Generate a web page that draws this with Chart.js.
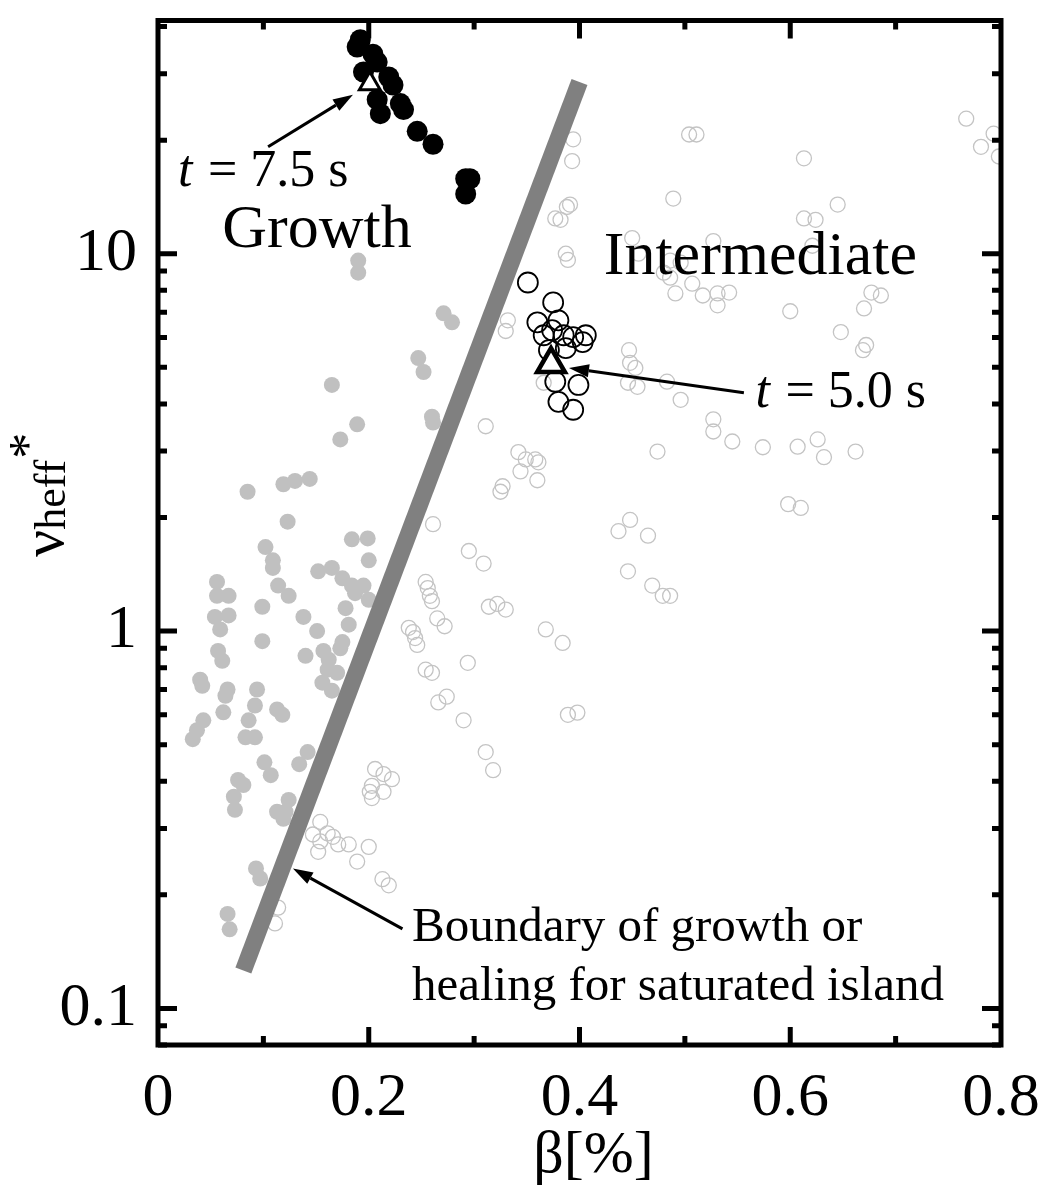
<!DOCTYPE html>
<html>
<head>
<meta charset="utf-8">
<script src="https://cdn.jsdelivr.net/npm/chart.js@4.4.1/dist/chart.umd.min.js"></script>
<style>
  html, body { margin: 0; padding: 0; background: #fff; }
  #wrap { width: 1045px; height: 1194px; }
</style>
</head>
<body>
<div id="wrap"><canvas id="myChart" width="1045" height="1194"></canvas></div>
<script>
// healing shots (gray, filled)
var grayFilledBeta = [0.190, 0.190, 0.271, 0.279, 0.247, 0.252, 0.165, 0.260, 0.261, 0.189,
    0.173, 0.085, 0.119, 0.130, 0.144, 0.123, 0.102, 0.109, 0.109, 0.114,
    0.124, 0.099, 0.099, 0.138, 0.151, 0.140, 0.184, 0.199, 0.200, 0.152,
    0.165, 0.175, 0.184, 0.195, 0.187, 0.200, 0.178, 0.181, 0.175, 0.173,
    0.157, 0.162, 0.161, 0.170, 0.156, 0.165, 0.056, 0.056, 0.067, 0.054,
    0.067, 0.059, 0.057, 0.061, 0.040, 0.042, 0.066, 0.064, 0.062, 0.094,
    0.092, 0.113, 0.118, 0.086, 0.043, 0.037, 0.033, 0.083, 0.092, 0.142,
    0.134, 0.101, 0.107, 0.076, 0.081, 0.072, 0.073, 0.124, 0.113, 0.121,
    0.119, 0.093, 0.097, 0.066, 0.068];
var grayFilledNu = [9.59, 8.91, 6.95, 6.58, 5.29, 4.86, 4.49, 3.70, 3.57, 3.53,
    3.22, 2.34, 2.45, 2.50, 2.53, 1.95, 1.67, 1.54, 1.47, 1.32,
    1.24, 1.16, 0.94, 1.09, 1.00, 0.86, 1.75, 1.76, 1.54, 1.44,
    1.47, 1.38, 1.32, 1.32, 1.26, 1.21, 1.15, 1.04, 0.935, 0.90,
    0.886, 0.84, 0.79, 0.775, 0.730, 0.695, 1.35, 1.24, 1.24, 1.09,
    1.10, 1.01, 0.886, 0.834, 0.743, 0.716, 0.70, 0.674, 0.609, 0.70,
    0.635, 0.620, 0.60, 0.58, 0.58, 0.546, 0.517, 0.523, 0.523, 0.478,
    0.444, 0.449, 0.415, 0.403, 0.391, 0.364, 0.336, 0.357, 0.332, 0.332,
    0.318, 0.235, 0.221, 0.178, 0.162];

// intermediate shots (gray, open)
var grayOpenBeta = [0.394, 0.393, 0.391, 0.388, 0.377, 0.382, 0.387, 0.389, 0.332, 0.330,
    0.311, 0.342, 0.349, 0.358, 0.361, 0.344, 0.360, 0.327, 0.325, 0.261,
    0.295, 0.309, 0.254, 0.256, 0.258, 0.260, 0.265, 0.272, 0.314, 0.322,
    0.330, 0.368, 0.384, 0.294, 0.254, 0.260, 0.238, 0.242, 0.244, 0.246,
    0.274, 0.266, 0.290, 0.311, 0.318, 0.206, 0.214, 0.222, 0.203, 0.201,
    0.214, 0.203, 0.154, 0.147, 0.161, 0.154, 0.166, 0.171, 0.181, 0.152,
    0.200, 0.189, 0.213, 0.219, 0.114, 0.111, 0.389, 0.398, 0.447, 0.448,
    0.453, 0.446, 0.455, 0.483, 0.496, 0.527, 0.527, 0.545, 0.574, 0.474,
    0.607, 0.626, 0.632, 0.662, 0.598, 0.610, 0.448, 0.437, 0.465, 0.446,
    0.469, 0.479, 0.486, 0.669, 0.767, 0.793, 0.781, 0.798, 0.504, 0.511,
    0.613, 0.489, 0.645, 0.613, 0.624, 0.450, 0.527, 0.621, 0.456, 0.486,
    0.496, 0.480, 0.486, 0.507, 0.491, 0.517, 0.531, 0.542, 0.531, 0.600,
    0.670, 0.677, 0.686, 0.648, 0.672, 0.366];
var grayOpenNu = [20.1, 17.6, 13.5, 13.3, 12.4, 12.3, 10.0, 9.63, 6.66, 6.24,
    3.49, 2.98, 2.85, 2.85, 2.80, 2.65, 2.51, 2.42, 2.34, 1.92,
    1.63, 1.51, 1.35, 1.30, 1.24, 1.20, 1.08, 1.03, 1.16, 1.18,
    1.14, 1.01, 0.93, 0.824, 0.79, 0.775, 1.02, 0.994, 0.958, 0.919,
    0.67, 0.647, 0.58, 0.478, 0.428, 0.431, 0.418, 0.405, 0.389, 0.375,
    0.375, 0.361, 0.312, 0.289, 0.291, 0.277, 0.285, 0.272, 0.272, 0.26,
    0.268, 0.245, 0.22, 0.212, 0.185, 0.168, 0.60, 0.608, 5.55, 5.14,
    4.98, 4.55, 4.44, 4.58, 4.10, 3.64, 3.38, 3.18, 3.07, 2.99,
    3.08, 3.22, 2.89, 2.99, 2.17, 2.12, 1.97, 1.84, 1.79, 1.44,
    1.32, 1.24, 1.24, 5.55, 22.8, 20.8, 19.2, 18.1, 20.7, 20.7,
    17.9, 14.0, 13.5, 12.4, 12.3, 11.0, 10.8, 10.5, 10.0, 9.59,
    9.47, 8.91, 8.64, 8.33, 7.85, 7.75, 7.85, 7.89, 7.30, 7.04,
    7.16, 7.89, 7.75, 6.20, 5.73, 4.55];

// growth phase around t = 7.5 s (black, filled)
var growthBeta = [0.192, 0.189, 0.204, 0.208, 0.195, 0.219, 0.223, 0.208, 0.230, 0.233,
    0.211, 0.246, 0.261, 0.292, 0.296, 0.292];
var growthNu = [36.9, 35.3, 33.8, 32.2, 30.3, 29.4, 28.0, 25.6, 25.0, 24.1,
    23.5, 21.1, 19.5, 15.8, 15.8, 14.4];

// intermediate phase around t = 5.0 s (black, open)
var interBeta = [0.351, 0.375, 0.360, 0.380, 0.374, 0.366, 0.385, 0.394, 0.406, 0.403,
    0.387, 0.371, 0.377, 0.399, 0.380, 0.394];
var interNu = [8.39, 7.43, 6.58, 6.66, 6.27, 6.08, 6.08, 6.01, 6.08, 5.83,
    5.62, 5.55, 4.58, 4.49, 4.05, 3.86];

// marked time slices
var t75Beta = [0.201], t75Nu = [28.2];
var t50Beta = [0.373], t50Nu = [5.10];

// boundary of growth or healing
var boundaryBeta = [0.081, 0.400];
var boundaryNu = [0.126, 28.5];

var xMajorTicks = [0.2, 0.4, 0.6];
var xMinorTicks = [0.1, 0.3, 0.5, 0.7];
var yMajorTicks = [0.1, 1, 10];
var yMinorTicks = [0.08, 0.09, 0.2, 0.3, 0.4, 0.5, 0.6, 0.7, 0.8, 0.9,
    2, 3, 4, 5, 6, 7, 8, 9, 20, 30, 40];

function toPoints(xs, ys) {
    var pts = [];
    for (var i = 0; i < xs.length; i++) {
        pts.push({x: xs[i], y: ys[i]});
    }
    return pts;
}

var serif = "'Liberation Serif', 'Times New Roman', serif";

function arrow(ctx, x1, y1, x2, y2) {
    var ang = Math.atan2(y2 - y1, x2 - x1);
    var len = 20, half = 6.5;
    var bx = x2 - Math.cos(ang) * len, by = y2 - Math.sin(ang) * len;
    ctx.lineWidth = 3;
    ctx.beginPath();
    ctx.moveTo(x1, y1);
    ctx.lineTo(bx, by);
    ctx.stroke();
    ctx.beginPath();
    ctx.moveTo(x2, y2);
    ctx.lineTo(bx + Math.sin(ang) * half, by - Math.cos(ang) * half);
    ctx.lineTo(bx - Math.sin(ang) * half, by + Math.cos(ang) * half);
    ctx.closePath();
    ctx.fill();
}

var decorations = {
    id: 'decorations',
    afterDatasetsDraw: function (chart) {
        var ctx = chart.ctx;
        var a = chart.chartArea;
        var xs = chart.scales.x, ys = chart.scales.y;
        var px = function (v) { return xs.getPixelForValue(v); };
        var py = function (v) { return ys.getPixelForValue(v); };
        ctx.save();
        ctx.strokeStyle = '#000';
        ctx.fillStyle = '#000';

        // inward ticks on all four sides
        ctx.lineWidth = 5;
        ctx.beginPath();
        xMajorTicks.forEach(function (v) {
            ctx.moveTo(px(v), a.bottom); ctx.lineTo(px(v), a.bottom - 18);
            ctx.moveTo(px(v), a.top); ctx.lineTo(px(v), a.top + 18);
        });
        xMinorTicks.forEach(function (v) {
            ctx.moveTo(px(v), a.bottom); ctx.lineTo(px(v), a.bottom - 9);
            ctx.moveTo(px(v), a.top); ctx.lineTo(px(v), a.top + 9);
        });
        yMajorTicks.forEach(function (v) {
            ctx.moveTo(a.left, py(v)); ctx.lineTo(a.left + 19, py(v));
            ctx.moveTo(a.right, py(v)); ctx.lineTo(a.right - 19, py(v));
        });
        yMinorTicks.forEach(function (v) {
            ctx.moveTo(a.left, py(v)); ctx.lineTo(a.left + 9, py(v));
            ctx.moveTo(a.right, py(v)); ctx.lineTo(a.right - 9, py(v));
        });
        ctx.stroke();

        // frame
        ctx.lineWidth = 5;
        ctx.strokeRect(a.left, a.top, a.right - a.left, a.bottom - a.top);

        // arrows
        arrow(ctx, px(0.1045), py(19.2), px(0.185), py(26.4));
        arrow(ctx, px(0.556), py(4.28), px(0.390), py(4.98));
        arrow(ctx, px(0.232), py(0.1625), px(0.128), py(0.235));

        // annotations
        ctx.textBaseline = 'alphabetic';
        ctx.textAlign = 'left';
        var x0 = px(0.019), y0 = py(15.1);
        ctx.font = 'italic 52px ' + serif;
        ctx.fillText('t', x0, y0);
        ctx.font = '52px ' + serif;
        ctx.fillText(' = 7.5 s', x0 + 17, y0);

        x0 = px(0.567); y0 = py(3.93);
        ctx.font = 'italic 52px ' + serif;
        ctx.fillText('t', x0, y0);
        ctx.font = '52px ' + serif;
        ctx.fillText(' = 5.0 s', x0 + 17, y0);

        ctx.font = '62px ' + serif;
        ctx.fillText('Growth', px(0.061), py(10.4));
        ctx.fillText('Intermediate', px(0.423), py(8.86));

        ctx.font = '49px ' + serif;
        ctx.fillText('Boundary of growth or', px(0.241), py(0.151));
        ctx.fillText('healing for saturated island', px(0.241), py(0.105));

        // axis titles
        ctx.font = '60px ' + serif;
        ctx.textAlign = 'center';
        ctx.fillText('\u03b2[%]', (a.left + a.right) / 2 + 14, 1172);

        ctx.translate(63, 557);
        ctx.rotate(-Math.PI / 2);
        ctx.textAlign = 'left';
        ctx.font = '60px ' + serif;
        ctx.fillText('\u03bd', 0, 0);
        var w = ctx.measureText('\u03bd').width;
        ctx.font = '44px ' + serif;
        ctx.fillText('heff', w, 2);
        var w2 = ctx.measureText('heff').width;
        ctx.font = '52px ' + serif;
        ctx.fillText('*', w + w2 + 1, -18);
        ctx.restore();
    }
};

function noPadding(s) {
    s.paddingTop = 0;
    s.paddingBottom = 0;
    s.paddingLeft = 0;
    s.paddingRight = 0;
}

var ctx = document.getElementById('myChart').getContext('2d');
var myChart = new Chart(ctx, {
    type: 'scatter',
    data: {
        datasets: [{
            label: 't = 5.0 s',
            data: toPoints(t50Beta, t50Nu),
            pointStyle: 'triangle',
            pointRadius: 16,
            pointBorderWidth: 4.5,
            pointBackgroundColor: '#fff',
            pointBorderColor: '#000',
            order: 0
        }, {
            label: 't = 7.5 s',
            data: toPoints(t75Beta, t75Nu),
            pointStyle: 'triangle',
            pointRadius: 12,
            pointBorderWidth: 3,
            pointBackgroundColor: '#fff',
            pointBorderColor: '#000',
            order: 0
        }, {
            label: 'intermediate (t = 5.0 s)',
            data: toPoints(interBeta, interNu),
            pointRadius: 10,
            pointBorderWidth: 1.8,
            pointBackgroundColor: 'rgba(0,0,0,0)',
            pointBorderColor: '#000',
            order: 1
        }, {
            label: 'growth (t = 7.5 s)',
            data: toPoints(growthBeta, growthNu),
            pointRadius: 10.5,
            pointBorderWidth: 0,
            pointBackgroundColor: '#000',
            pointBorderColor: '#000',
            order: 2
        }, {
            label: 'boundary',
            data: toPoints(boundaryBeta, boundaryNu),
            showLine: true,
            borderColor: '#808080',
            borderWidth: 17,
            borderCapStyle: 'butt',
            pointRadius: 0,
            order: 3
        }, {
            label: 'healing',
            data: toPoints(grayFilledBeta, grayFilledNu),
            pointRadius: 8,
            pointBorderWidth: 0,
            pointBackgroundColor: '#c0c0c0',
            pointBorderColor: '#c0c0c0',
            order: 4
        }, {
            label: 'intermediate',
            data: toPoints(grayOpenBeta, grayOpenNu),
            pointRadius: 7.5,
            pointBorderWidth: 1.3,
            pointBackgroundColor: 'rgba(0,0,0,0)',
            pointBorderColor: '#c4c4c4',
            order: 5
        }]
    },
    options: {
        responsive: false,
        animation: false,
        events: [],
        layout: { padding: { top: 13, right: 44, left: 0, bottom: 0 } },
        plugins: { legend: { display: false }, tooltip: { enabled: false } },
        scales: {
            x: {
                type: 'linear',
                min: 0,
                max: 0.8,
                afterFit: function (s) { s.height = 149; noPadding(s); },
                grid: { display: false, drawTicks: false },
                border: { display: false },
                ticks: {
                    stepSize: 0.2,
                    padding: 17,
                    maxRotation: 0,
                    autoSkip: false,
                    color: '#000',
                    font: { family: serif, size: 62 },
                    callback: function (v) { return v === 0 ? '0' : v.toFixed(1); }
                }
            },
            y: {
                type: 'logarithmic',
                min: 0.08,
                max: 41.5,
                afterFit: function (s) { s.width = 158; noPadding(s); },
                afterBuildTicks: function (s) {
                    s.ticks = yMajorTicks.map(function (v) { return {value: v}; });
                },
                grid: { display: false, drawTicks: false },
                border: { display: false },
                ticks: {
                    padding: 21,
                    color: '#000',
                    font: { family: serif, size: 62 },
                    callback: function (v) { return String(v); }
                }
            }
        }
    },
    plugins: [decorations]
});
</script>
</body>
</html>
